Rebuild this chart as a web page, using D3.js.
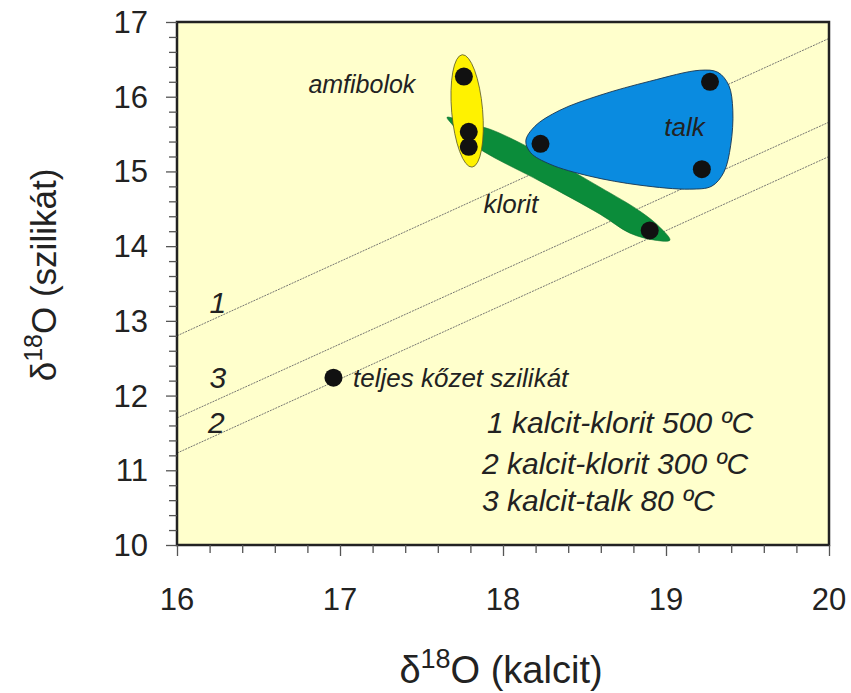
<!DOCTYPE html>
<html>
<head>
<meta charset="utf-8">
<script src="https://cdn.jsdelivr.net/npm/d3@7"></script>
<style>
  body { margin: 0; background: #fff; }
  text { font-family: Arial, "Liberation Sans", sans-serif; fill: #222; }
</style>
</head>
<body>
<svg id="chart" width="851" height="693"></svg>
<script>
// axis domains and ticks
const xDomain = [16, 20];
const yDomain = [10, 17];
const xTicks = [16, 17, 18, 19, 20];
const yTicks = [10, 11, 12, 13, 14, 15, 16, 17];

// measured points: [d18O kalcit, d18O szilikat]
const amfPoints = [[17.76, 16.27], [17.79, 15.53], [17.79, 15.33]];
const talkPoints = [[18.23, 15.37], [19.27, 16.20], [19.22, 15.03]];
const kloritPoints = [[18.90, 14.21]];
const wholeRock = [[16.96, 12.24]];

// equilibrium lines, y value at x=16 and x=20
const eqLines = [
  { id: "1", y: [12.80, 16.78], label: [16.20, 13.1] },
  { id: "3", y: [11.70, 15.66], label: [16.20, 12.1] },
  { id: "2", y: [11.23, 15.20], label: [16.19, 11.5] }
];

// field outlines (data units)
const talkField = [
  [18.140, 15.410], [18.196, 15.605], [18.349, 15.819], [18.595, 16.020],
  [18.901, 16.207], [19.208, 16.354], [19.318, 16.327], [19.385, 16.153],
  [19.410, 15.819], [19.397, 15.351], [19.355, 14.990], [19.281, 14.803],
  [19.146, 14.763], [18.840, 14.816], [18.533, 14.936], [18.288, 15.097],
  [18.170, 15.250]
];
const kloritField = [
  [17.657, 15.725], [17.798, 15.632], [17.920, 15.565], [18.227, 15.244],
  [18.595, 14.789], [18.840, 14.468], [18.962, 14.254], [19.024, 14.080],
  [18.932, 14.080], [18.779, 14.174], [18.595, 14.428], [18.227, 14.870],
  [17.920, 15.217], [17.798, 15.391], [17.687, 15.632]
];
const amfField = { cx: 17.78, cy: 15.81, rx: 0.095, ry: 0.755, rot: -5 };

const legendLines = ["1 kalcit-klorit 500 ºC", "2 kalcit-klorit 300 ºC", "3 kalcit-talk 80 ºC"];

const svg = d3.select("#chart");
const pLeft = 177, pRight = 829, pTop = 22, pBottom = 545;

const x = d3.scaleLinear().domain(xDomain).range([pLeft, pRight]);
const y = d3.scaleLinear().domain(yDomain).range([pBottom, pTop]);

svg.append("defs").append("clipPath").attr("id", "plotClip")
  .append("rect").attr("x", pLeft).attr("y", pTop)
  .attr("width", pRight - pLeft).attr("height", pBottom - pTop);

// background
svg.append("rect")
  .attr("x", pLeft).attr("y", pTop)
  .attr("width", pRight - pLeft).attr("height", pBottom - pTop)
  .style("fill", "#ffffcc");

const plot = svg.append("g").attr("clip-path", "url(#plotClip)");

// equilibrium lines
plot.selectAll(".eq")
  .data(eqLines)
  .enter().append("line")
  .attr("x1", x(xDomain[0])).attr("x2", x(xDomain[1]))
  .attr("y1", d => y(d.y[0])).attr("y2", d => y(d.y[1]))
  .style("stroke", "#666")
  .style("stroke-width", 0.9)
  .style("stroke-dasharray", "2,1");

svg.selectAll(".eq-label")
  .data(eqLines)
  .enter().append("text")
  .attr("x", d => x(d.label[0]))
  .attr("y", d => y(d.label[1]))
  .style("font-size", "30px")
  .style("font-style", "italic")
  .text(d => d.id);

// fields
const closed = d3.line()
  .x(d => x(d[0])).y(d => y(d[1]))
  .curve(d3.curveCatmullRomClosed.alpha(0.5));

plot.append("path")
  .datum(kloritField)
  .attr("d", closed)
  .style("fill", "#0b8c3a")
  .style("stroke", "#0a6e2e")
  .style("stroke-width", 0.6);

plot.append("ellipse")
  .attr("cx", x(amfField.cx)).attr("cy", y(amfField.cy))
  .attr("rx", x(amfField.cx + amfField.rx) - x(amfField.cx))
  .attr("ry", y(amfField.cy - amfField.ry) - y(amfField.cy))
  .attr("transform", `rotate(${amfField.rot},${x(amfField.cx)},${y(amfField.cy)})`)
  .style("fill", "#fff200")
  .style("stroke", "#5a5a2a")
  .style("stroke-width", 0.8);

plot.append("path")
  .datum(talkField)
  .attr("d", closed)
  .style("fill", "#0a8be0")
  .style("stroke", "#1a3550")
  .style("stroke-width", 0.9);

// points
const allPoints = amfPoints.concat(talkPoints, kloritPoints, wholeRock);
plot.selectAll(".pt")
  .data(allPoints)
  .enter().append("circle")
  .attr("cx", d => x(d[0])).attr("cy", d => y(d[1]))
  .attr("r", 9)
  .style("fill", "#111");

// field labels
const labels = [
  { t: "amfibolok", at: [16.806, 16.05], fs: 25 },
  { t: "talk", at: [18.99, 15.48], fs: 26 },
  { t: "klorit", at: [17.88, 14.45], fs: 26 },
  { t: "teljes kőzet szilikát", at: [17.08, 12.12], fs: 26 }
];
svg.selectAll(".flabel")
  .data(labels)
  .enter().append("text")
  .attr("x", d => x(d.at[0]))
  .attr("y", d => y(d.at[1]))
  .style("font-size", d => d.fs + "px")
  .style("font-style", "italic")
  .text(d => d.t);

// legend
svg.selectAll(".leg")
  .data(legendLines)
  .enter().append("text")
  .attr("x", (d, i) => i === 0 ? 487 : 482)
  .attr("y", (d, i) => [433, 474, 511][i])
  .style("font-size", "30px")
  .style("font-style", "italic")
  .text(d => d);

// frame
svg.append("rect")
  .attr("x", pLeft).attr("y", pTop)
  .attr("width", pRight - pLeft).attr("height", pBottom - pTop)
  .style("fill", "none")
  .style("stroke", "#222")
  .style("stroke-width", 2.5);

// axes
const xAxis = d3.axisBottom(x).tickValues(d3.range(16, 20.01, 0.2))
  .tickSize(8).tickFormat("");
const yAxis = d3.axisLeft(y).tickValues(d3.range(10, 17.01, 0.2))
  .tickSize(8).tickFormat("");

const gx = svg.append("g").attr("transform", `translate(0,${pBottom})`).call(xAxis);
const gy = svg.append("g").attr("transform", `translate(${pLeft},0)`).call(yAxis);
[gx, gy].forEach(g => {
  g.select(".domain").remove();
  g.selectAll("line").style("stroke", "#555").style("stroke-width", 1.3);
});
gx.selectAll(".tick line").attr("y2", d => Math.abs(d - Math.round(d)) < 1e-6 ? 11 : 8);
gy.selectAll(".tick line").attr("x2", d => Math.abs(d - Math.round(d)) < 1e-6 ? -11 : -8);

svg.selectAll(".xl")
  .data(xTicks)
  .enter().append("text")
  .attr("x", d => x(d))
  .attr("y", 610)
  .attr("text-anchor", "middle")
  .style("font-size", "31px")
  .text(d => d);

svg.selectAll(".yl")
  .data(yTicks)
  .enter().append("text")
  .attr("x", 148)
  .attr("y", d => y(d) + 11)
  .attr("text-anchor", "end")
  .style("font-size", "31px")
  .text(d => d);

// axis titles
const xt = svg.append("text")
  .attr("x", 501).attr("y", 683)
  .attr("text-anchor", "middle")
  .style("font-size", "38px");
xt.append("tspan").text("δ");
xt.append("tspan").attr("dy", -15).style("font-size", "27px").text("18");
xt.append("tspan").attr("dy", 15).text("O (kalcit)");

const yt = svg.append("text")
  .attr("transform", "translate(56,275) rotate(-90)")
  .attr("text-anchor", "middle")
  .style("font-size", "35px");
yt.append("tspan").text("δ");
yt.append("tspan").attr("dy", -14).style("font-size", "25px").text("18");
yt.append("tspan").attr("dy", 14).text("O (szilikát)");
</script>
</body>
</html>
